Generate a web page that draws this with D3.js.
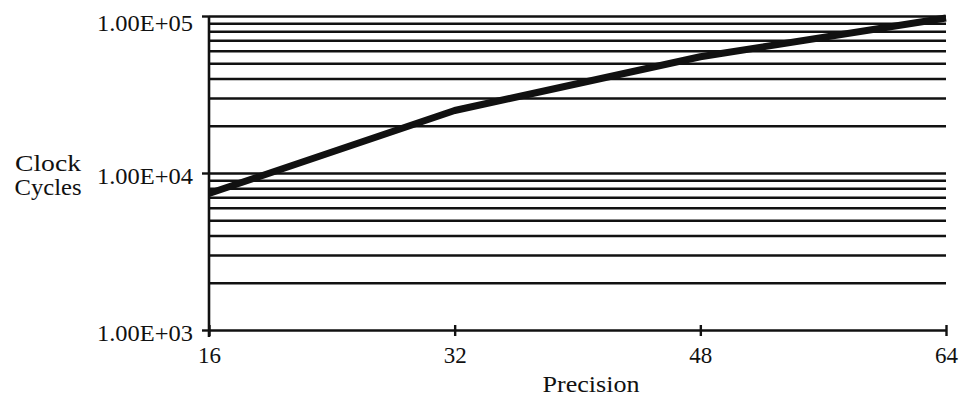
<!DOCTYPE html>
<html>
<head>
<meta charset="utf-8">
<script src="https://cdn.jsdelivr.net/npm/d3@7"></script>
<style>
  html, body { margin: 0; padding: 0; background: #fff; }
  svg { display: block; }
  text { font-family: "Liberation Serif", "DejaVu Serif", serif; fill: #111; }
</style>
</head>
<body>
<svg id="chart" width="965" height="398"></svg>
<script>
// Clock cycles needed at each precision (bits)
const precision = [16, 32, 48, 64];
const clockCycles = [7400, 25000, 55000, 97000];

const xTicks = [16, 32, 48, 64];
const yTicks = [1e3, 1e4, 1e5];
const yTickLabels = ["1.00E+03", "1.00E+04", "1.00E+05"];
const yGrid = [2e3, 3e3, 4e3, 5e3, 6e3, 7e3, 8e3, 9e3, 1e4,
               2e4, 3e4, 4e4, 5e4, 6e4, 7e4, 8e4, 9e4, 1e5];

const W = 965, H = 398;
const m = { left: 209, right: 19, top: 16, bottom: 68 };
const iw = W - m.left - m.right, ih = H - m.top - m.bottom;
const FS = 23;

const svg = d3.select("#chart");
const g = svg.append("g").attr("transform", `translate(${m.left},${m.top})`);

const x = d3.scaleLinear().domain([16, 64]).range([0, iw]);
const y = d3.scaleLog().domain([1e3, 1e5]).range([ih, 0]);

const ink = "#111";

// the serif face is drawn a little wider than its natural set width
function fitWidth(sel, w) {
  sel.each(function () {
    this.setAttribute("textLength", w);
    this.setAttribute("lengthAdjust", "spacingAndGlyphs");
  });
}

// horizontal gridlines
const grid = g.append("g")
  .call(d3.axisLeft(y).tickValues(yGrid).tickSize(-iw).tickFormat(""));
grid.select(".domain").remove();
grid.selectAll("line").attr("stroke", ink).attr("stroke-width", 2.5);

// y axis
const yAxis = g.append("g")
  .call(d3.axisLeft(y).tickValues(yTicks).tickSize(7).tickPadding(9)
    .tickFormat((d, i) => yTickLabels[i]));
yAxis.select(".domain").attr("stroke", ink).attr("stroke-width", 2.6)
  .attr("d", `M0,${ih + 7}V0`);
yAxis.selectAll(".tick line").attr("stroke", ink).attr("stroke-width", 2.4);
yAxis.selectAll(".tick text")
  .attr("font-size", FS)
  .attr("dy", (d, i) => (i === 2 ? "0.62em" : "0.45em"))
  .call(fitWidth, 96);

// x axis
const xAxis = g.append("g").attr("transform", `translate(0,${ih})`)
  .call(d3.axisBottom(x).tickValues(xTicks).tickSizeInner(6).tickSizeOuter(0)
    .tickPadding(11).tickFormat(d3.format("d")));
xAxis.select(".domain").attr("stroke", ink).attr("stroke-width", 2.6);
xAxis.selectAll(".tick line").attr("stroke", ink).attr("stroke-width", 2.4)
  .attr("y1", -5);
xAxis.selectAll(".tick text").attr("font-size", FS).call(fitWidth, 23);

// data line
const line = d3.line()
  .x((d, i) => x(precision[i]))
  .y(d => y(d));
g.append("path")
  .datum(clockCycles)
  .attr("fill", "none")
  .attr("stroke", ink)
  .attr("stroke-width", 7)
  .attr("stroke-linejoin", "round")
  .attr("stroke-linecap", "butt")
  .attr("d", line);

// axis titles
svg.append("text").attr("text-anchor", "middle").attr("font-size", FS)
  .attr("x", 48).attr("y", 171).text("Clock").call(fitWidth, 66);
svg.append("text").attr("text-anchor", "middle").attr("font-size", FS)
  .attr("x", 48).attr("y", 195).text("Cycles").call(fitWidth, 67);
svg.append("text").attr("text-anchor", "middle").attr("font-size", FS)
  .attr("x", 591).attr("y", 392).text("Precision").call(fitWidth, 97);
</script>
</body>
</html>
